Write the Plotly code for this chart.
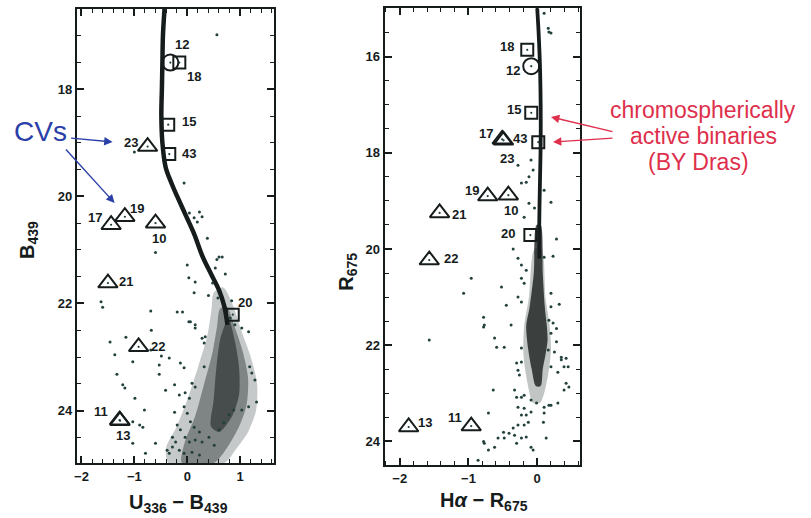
import plotly.graph_objects as go

# ---------------- LEFT PANEL: U336-B439 vs B439 ----------------
L_ids = ["12", "18", "15", "43", "23", "17", "19", "10", "21", "20", "22", "11", "13"]
L_x = [-0.32, -0.15, -0.36, -0.34, -0.75, -1.44, -1.18, -0.60, -1.50, 0.86, -0.92, -1.28, -1.27]
L_y = [17.50, 17.50, 18.66, 19.21, 19.07, 20.53, 20.38, 20.50, 21.62, 22.21, 22.81, 24.18, 24.19]
L_sym = ["circle", "square", "square", "square", "triangle", "triangle", "triangle",
         "triangle", "triangle", "square", "triangle", "triangle", "triangle"]

# main-sequence ridge (fiducial)
L_ridge_x = [-0.43, -0.46, -0.47, -0.48, -0.49, -0.47, -0.41, -0.30, -0.19, -0.03, 0.13, 0.28, 0.45, 0.60, 0.70, 0.76]
L_ridge_y = [16.5, 17.0, 17.5, 18.0, 18.5, 19.0, 19.45, 19.75, 20.0, 20.35, 20.7, 21.1, 21.45, 21.75, 22.05, 22.4]

# envelopes of the dense faint star cloud (outer, middle, core)
L_out_x = [0.68, 0.85, 1.02, 1.20, 1.32, 1.30, 1.15, 0.90, 0.70, -0.35, -0.40, -0.20, 0.00, 0.20, 0.38, 0.46, 0.50]
L_out_y = [21.7, 22.0, 22.5, 23.0, 23.5, 24.0, 24.4, 24.75, 24.98, 24.98, 24.7, 24.3, 23.8, 23.2, 22.6, 22.1, 21.8]
L_mid_x = [0.74, 0.90, 1.05, 1.15, 1.12, 0.98, 0.75, 0.50, -0.10, -0.05, 0.15, 0.32, 0.48, 0.56, 0.62]
L_mid_y = [22.05, 22.45, 22.9, 23.4, 23.9, 24.3, 24.7, 24.98, 24.98, 24.6, 24.1, 23.5, 22.9, 22.45, 22.1]
L_core_x = [0.78, 0.90, 0.98, 0.98, 0.85, 0.60, 0.45, 0.50, 0.55, 0.64]
L_core_y = [22.3, 22.7, 23.2, 23.7, 24.1, 24.4, 24.3, 23.8, 23.2, 22.6]

L_field_x = [0.56, -1.0, -0.06, 0.04, 0.13, 0.23, 0.28, 0.19, 0.38, 0.56, 0.66, -0.6,
             -1.63, -1.6, -0.69, -0.68, -1.16, -1.46, -1.37, -0.53, -0.34, -0.13, -0.09, 0.03, 0.15, 0.15,
             0.34, -1.33, -1.22, -1.18, -0.53, -0.41, -0.99, -0.81, -1.03, -0.9, -0.84, -1.03, -0.6, -0.79,
             -0.34, -0.28, -0.69, -0.49, -1.03, 0.6, 0.13, 0.53, 0.15,
             0.0, 0.03, -0.19, 0.06, 0.81, 0.9, 1.03, 1.16, 0.28, 0.32, -0.06, 0.32, 1.18, 1.22, 1.28, 1.31,
             1.16, 1.03, -0.24, -0.15, -0.04, 0.04, 0.09, 0.15, -0.24, -0.06, 0.0, -0.19, -0.13, 0.06, 0.13,
             0.23, -0.28, -0.22, -0.04, 0.04, 0.15, 0.28, 0.41, 0.51, -0.15, -0.06, 0.09, 0.23, -0.38, 0.6,
             0.69, 0.79, 0.88, 0.72, 0.48, 0.58, 0.84, 0.40]
L_field_y = [16.98, 19.17, 19.75, 20.31, 20.4, 20.29, 20.38, 20.48, 20.78, 21.18, 21.13, 21.05,
             21.97, 22.07, 22.14, 22.5, 22.63, 22.72, 22.96, 23.15, 23.02, 23.11, 22.16, 22.34, 22.4, 22.46,
             22.62, 23.32, 23.52, 23.58, 23.32, 23.62, 23.77, 23.99, 24.21, 24.27, 24.31, 24.61, 24.61, 24.8,
             24.8, 24.68, 22.87, 22.98, 23.09, 21.13, 21.8, 21.34, 21.6,
             21.28, 21.52, 22.16, 22.34, 22.27, 22.4, 22.46, 22.53, 22.65, 22.74, 23.2, 23.18, 23.18, 23.3, 23.43, 23.84,
             23.93, 23.99, 23.52, 23.71, 23.67, 23.77, 23.49, 23.56, 24.03, 23.93, 24.05, 24.27, 24.36, 24.21, 24.31,
             24.4, 24.5, 24.59, 24.5, 24.59, 24.55, 24.59, 24.5, 24.65, 24.74, 24.8, 24.78, 24.83, 24.74, 24.36,
             24.23, 24.08, 23.99, 21.45, 21.62, 21.9, 21.95, 21.85]

# ---------------- RIGHT PANEL: Halpha-R675 vs R675 ----------------
R_ids = ["18", "12", "15", "43", "17", "23", "19", "10", "21", "20", "22", "13", "11"]
R_x = [-0.145, -0.087, -0.087, 0.015, -0.51, -0.49, -0.72, -0.42, -1.42, -0.10, -1.57, -1.87, -0.96]
R_y = [15.86, 16.20, 17.17, 17.78, 17.72, 17.74, 18.90, 18.88, 19.25, 19.71, 20.23, 23.70, 23.68]
R_sym = ["square", "circle", "square", "square", "triangle", "triangle", "triangle",
         "triangle", "triangle", "square", "triangle", "triangle", "triangle"]

R_ridge_x = [0.0, 0.02, 0.04, 0.05, 0.05, 0.04, 0.03, 0.03]
R_ridge_y = [15.0, 15.5, 16.2, 17.0, 17.8, 18.6, 19.4, 20.2]

R_cloud_x = [0.05, 0.08, 0.11, 0.14, 0.15, 0.12, 0.08, 0.05, -0.02, -0.08, -0.13, -0.16, -0.11, -0.05, -0.01]
R_cloud_y = [19.5, 20.5, 21.2, 21.6, 21.9, 22.2, 22.5, 22.85, 22.85, 22.5, 22.1, 21.6, 21.2, 20.5, 19.5]
R_halo_x = [0.06, 0.12, 0.18, 0.20, 0.16, 0.10, 0.04, -0.06, -0.14, -0.20, -0.19, -0.12, -0.04]
R_halo_y = [20.0, 21.0, 21.6, 22.1, 22.6, 23.0, 23.2, 23.2, 22.8, 22.2, 21.6, 21.0, 20.0]

R_field_x = [0.1, 0.16, 0.2, 0.17,
             -0.28, -0.09, -0.06, -0.12, -0.23, -0.16, 0.1, 0.2, -0.12, -0.04, -0.19, 0.28, -0.35, -0.28, -0.23,
             0.1, 0.23, -0.16, -0.23, -0.19, -0.52, -0.28, -0.23, -0.45, 0.32, 0.2, -0.96,
             -0.78, -0.77, -0.78, -0.38, -0.62, -0.59, -0.48, -0.23, 0.2, 0.23, 0.2, 0.28, 0.16, 0.25, 0.35,
             0.42, 0.45, -0.3, -0.23, -0.28, -0.26, 0.2, 0.3, -0.64, -0.33, -0.3, -0.23, -0.19, -0.09, -0.01,
             0.1, 0.2, 0.3, -0.19, -0.28, -0.23, -0.16, -0.09, 0.09, 0.1, -0.13, -0.19, -0.28, -0.35, -0.41,
             -0.49, -0.48, -0.57, -0.33, -0.3, -0.23, -0.16, -0.09, -0.62, -0.71, -0.77, 0.13, -0.71, -0.86,
             -1.07, -1.57, -0.78, 0.35, 0.39, 0.42, 0.39, 0.17, 0.17, 0.28, -0.06, 0.46]
R_field_y = [15.1, 15.41, 15.51, 15.49,
             18.26, 18.15, 18.36, 18.5, 18.63, 18.61, 18.78, 19.03, 19.05, 19.15, 19.34, 19.79, 20.0, 20.19, 20.33,
             20.17, 20.15, 20.44, 20.61, 20.71, 20.79, 21.0, 21.1, 21.17, 21.15, 20.92, 20.61,
             21.42, 21.58, 21.62, 21.58, 21.85, 22.04, 22.04, 22.06, 21.2, 21.54, 21.75, 21.93, 22.1, 22.14, 22.25,
             22.27, 22.45, 22.37, 22.35, 22.52, 22.62, 22.45, 22.56, 22.93, 22.93, 23.08, 23.08, 23.04, 23.14, 23.2,
             23.29, 23.25, 23.2, 23.31, 23.29, 23.45, 23.45, 23.39, 23.6, 23.41, 23.6, 23.66, 23.66, 23.72, 23.83,
             23.81, 23.93, 23.93, 23.87, 24.04, 23.93, 23.91, 24.12, 24.12, 24.18, 24.04, 23.93, 23.41, 24.39,
             20.92, 21.89, 24.0, 22.3, 22.45, 22.79, 22.93, 23.25, 21.48, 21.65, 24.18, 22.87]

# ---------------- styles ----------------
INK = "#161c1c"
DOT = "#22403c"
FONT = "Liberation Sans"
SYM_STYLE = {"triangle": ("triangle-up-open", 17), "square": ("square-open", 12), "circle": ("circle-open", 16)}
L_LABEL_SHIFT = {"12": (12, 18), "18": (15, -14), "15": (21, 3), "43": (20, 1), "23": (-17, 4),
                 "17": (-16, 7), "19": (12, 8), "10": (3, -15), "21": (18, 2), "20": (12, 12),
                 "22": (19, 0), "11": (-19, 9), "13": (3, -15)}
R_LABEL_SHIFT = {"18": (-20, 3), "12": (-18, -4), "15": (-17, 3), "43": (-18, 4), "17": (-16, 6),
                 "23": (3, -18), "19": (-16, 6), "10": (3, -15), "21": (19, -2), "20": (-22, 2),
                 "22": (22, 2), "13": (16, 5), "11": (-16, 9)}

fig = go.Figure()


def add_panel(xa, ya, ridge_x, ridge_y, ridge_w, clouds, fx, fy, ids, xs, ys, syms, shifts):
    for cx, cy, col in clouds:
        fig.add_trace(go.Scatter(x=cx + cx[:1], y=cy + cy[:1], xaxis=xa, yaxis=ya, mode="lines",
                                 fill="toself", fillcolor=col, line=dict(width=0, shape="spline", smoothing=0.8),
                                 hoverinfo="skip", showlegend=False))
    fig.add_trace(go.Scatter(x=ridge_x, y=ridge_y, xaxis=xa, yaxis=ya, mode="lines",
                             line=dict(color=INK, width=ridge_w, shape="spline"), showlegend=False))
    fig.add_trace(go.Scatter(x=fx, y=fy, xaxis=xa, yaxis=ya, mode="markers",
                             marker=dict(color=DOT, size=3), showlegend=False))
    for s in ["triangle", "square", "circle"]:
        px = [x for x, k in zip(xs, syms) if k == s]
        py = [y for y, k in zip(ys, syms) if k == s]
        sym, size = SYM_STYLE[s]
        fig.add_trace(go.Scatter(x=px, y=py, xaxis=xa, yaxis=ya, mode="markers",
                                 marker=dict(symbol=sym, size=size, color=INK, line=dict(width=2, color=INK)),
                                 showlegend=False))
    fig.add_trace(go.Scatter(x=xs, y=ys, xaxis=xa, yaxis=ya, mode="markers",
                             marker=dict(color=DOT, size=2.2), showlegend=False))
    for i, x, y in zip(ids, xs, ys):
        dx, dy = shifts[i]
        fig.add_annotation(x=x, y=y, xref=xa, yref=ya, text=i, showarrow=False, xshift=dx, yshift=dy,
                           font=dict(family=FONT, size=13, color=INK, weight="bold"))


add_panel("x", "y", L_ridge_x, L_ridge_y, 4.5,
          [(L_out_x, L_out_y, "rgba(50,62,60,0.28)"), (L_mid_x, L_mid_y, "rgba(40,50,50,0.45)"),
           (L_core_x, L_core_y, "rgba(25,30,30,0.55)")],
          L_field_x, L_field_y, L_ids, L_x, L_y, L_sym, L_LABEL_SHIFT)
add_panel("x2", "y2", R_ridge_x, R_ridge_y, 3.8,
          [(R_halo_x, R_halo_y, "rgba(50,62,60,0.3)"), (R_cloud_x, R_cloud_y, "rgba(25,30,30,0.8)")],
          R_field_x, R_field_y, R_ids, R_x, R_y, R_sym, R_LABEL_SHIFT)

W, H = 811, 518
axis_common = dict(showline=True, linewidth=2, linecolor=INK, mirror="allticks", ticks="inside",
                   ticklen=7, tickwidth=1.5, tickcolor=INK, showgrid=False, zeroline=False,
                   tickfont=dict(family=FONT, size=13, color=INK, weight="bold"))

fig.update_layout(
    width=W, height=H, margin=dict(l=0, r=0, t=0, b=0),
    paper_bgcolor="white", plot_bgcolor="white", showlegend=False,
    xaxis=dict(domain=[74 / W, 272 / W], range=[-2.09, 1.64], dtick=1, tick0=0, anchor="y",
               minor=dict(ticks="inside", ticklen=4, dtick=0.2, tickcolor=INK, tickwidth=1.2), **axis_common),
    yaxis=dict(domain=[1 - 463 / H, 1 - 9 / H], range=[24.98, 16.5], dtick=2, tick0=0, anchor="x",
               minor=dict(ticks="inside", ticklen=4, dtick=0.5, tickcolor=INK, tickwidth=1.2), **axis_common),
    xaxis2=dict(domain=[383 / W, 579 / W], range=[-2.22, 0.62], dtick=1, tick0=0, anchor="y2",
                minor=dict(ticks="inside", ticklen=4, dtick=0.2, tickcolor=INK, tickwidth=1.2), **axis_common),
    yaxis2=dict(domain=[1 - 465 / H, 1 - 8 / H], range=[24.49, 14.99], dtick=2, tick0=0, anchor="x2",
                minor=dict(ticks="inside", ticklen=4, dtick=0.5, tickcolor=INK, tickwidth=1.2), **axis_common),
)


def pannot(text, px, py, size, color, angle=0, weight="bold"):
    fig.add_annotation(x=px / W, y=1 - py / H, xref="paper", yref="paper", text=text, showarrow=False,
                       textangle=angle, xanchor="center", yanchor="middle",
                       font=dict(family=FONT, size=size, color=color, weight=weight))


pannot("B<sub>439</sub>", 26, 240, 20, INK, -90)
pannot("U<sub>336</sub> − B<sub>439</sub>", 176, 503, 20, INK)
pannot("R<sub>675</sub>", 345, 272, 20, INK, -90)
pannot("H<i>α</i> − R<sub>675</sub>", 483, 501, 20, INK)

BLUE = "#2b3fa8"
RED = "#de2f4c"
pannot("CVs", 38, 131, 28, BLUE, weight="normal")
pannot("chromospherically", 703, 110, 23, RED, weight="normal")
pannot("active binaries", 703, 136, 23, RED, weight="normal")
pannot("(BY Dras)", 698, 162, 23, RED, weight="normal")


def arrow(hx, hy, tx, ty, color):
    fig.add_annotation(x=hx / W, y=1 - hy / H, xref="paper", yref="paper", text="", showarrow=True,
                       ax=tx - hx, ay=ty - hy, axref="pixel", ayref="pixel",
                       arrowhead=2, arrowsize=1.2, arrowwidth=1.4, arrowcolor=color)


arrow(110, 142, 67, 138, BLUE)
arrow(112, 203, 62, 148, BLUE)
arrow(550, 117, 613, 132, RED)
arrow(552, 142, 613, 138, RED)

fig.write_html("out.html")
